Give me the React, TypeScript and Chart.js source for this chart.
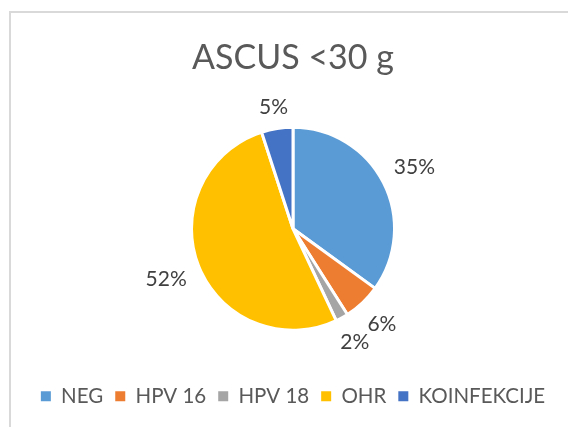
import React, { useEffect, useRef } from "react";
import { Chart, registerables } from "chart.js";

Chart.register(...registerables);

const TITLE = "ASCUS <30 g";
const categories = ["NEG", "HPV 16", "HPV 18", "OHR", "KOINFEKCIJE"];
const percentages = [35, 6, 2, 52, 5];
const colors = ["#5B9BD5", "#ED7D31", "#A5A5A5", "#FFC000", "#4472C4"];

const FONT = "Lato, 'Open Sans', sans-serif";
const LABEL_SIZE = 21;

const framePlugin = {
  id: "frame",
  beforeDraw(chart: any) {
    const ctx = chart.ctx;
    ctx.save();
    ctx.fillStyle = "#ffffff";
    ctx.fillRect(0, 0, chart.width, chart.height);
    ctx.strokeStyle = "#d9d9d9";
    ctx.lineWidth = 2;
    ctx.beginPath();
    ctx.moveTo(10, chart.height);
    ctx.lineTo(10, 12);
    ctx.lineTo(chart.width, 12);
    ctx.stroke();
    ctx.restore();
  },
};

const labelPlugin = {
  id: "pctLabels",
  afterDatasetsDraw(chart: any) {
    const ctx = chart.ctx;
    const meta = chart.getDatasetMeta(0);
    const data = chart.data.datasets[0].data as number[];
    ctx.save();
    ctx.font = `${LABEL_SIZE}px ${FONT}`;
    ctx.fillStyle = "#404040";
    ctx.textAlign = "center";
    ctx.textBaseline = "alphabetic";
    const capH = LABEL_SIZE * 0.7165;
    meta.data.forEach((arc: any, i: number) => {
      const { x, y, startAngle, endAngle, outerRadius } = arc.getProps(
        ["x", "y", "startAngle", "endAngle", "outerRadius"],
        true
      );
      const mid = (startAngle + endAngle) / 2;
      const c = Math.cos(mid);
      const s = Math.sin(mid);
      const text = data[i] + "%";
      const w = ctx.measureText(text).width;
      const d = outerRadius + 13 + (Math.abs(c) * w) / 2 + (Math.abs(s) * capH) / 2;
      ctx.fillText(text, x + c * d, y + s * d + capH / 2);
    });
    ctx.restore();
  },
};

export default function App() {
  const ref = useRef<HTMLCanvasElement>(null);
  useEffect(() => {
    const defaultGen = (Chart as any).overrides.pie.plugins.legend.labels.generateLabels;
    const chart = new Chart(ref.current as HTMLCanvasElement, {
      type: "pie",
      data: {
        labels: categories,
        datasets: [
          {
            data: percentages,
            backgroundColor: colors,
            borderColor: "#ffffff",
            borderWidth: 3,
            radius: 101.5,
          } as any,
        ],
      },
      options: {
        animation: false,
        responsive: false,
        layout: { padding: { top: 0, left: 18, right: 0, bottom: 10.5 } },
        plugins: {
          title: {
            display: true,
            text: TITLE,
            color: "#595959",
            font: { family: FONT, size: 34, weight: "normal", lineHeight: 1.2 },
            padding: { top: 38, bottom: 4.7 },
          },
          legend: {
            position: "bottom",
            labels: {
              boxWidth: 10,
              boxHeight: 10,
              padding: 12,
              color: "#595959",
              font: { family: FONT, size: 20.5 },
              generateLabels: (chart: any) =>
                defaultGen(chart).map((l: any) => ({ ...l, lineWidth: 0, strokeStyle: "rgba(0,0,0,0)" })),
            },
          },
          tooltip: { enabled: false },
        },
      },
      plugins: [framePlugin, labelPlugin],
    });
    return () => chart.destroy();
  }, []);
  return (
    <div style={{ position: "fixed", left: 0, top: 0, width: 568, height: 427 }}>
      <canvas ref={ref} width={568} height={427} style={{ display: "block" }} />
    </div>
  );
}
